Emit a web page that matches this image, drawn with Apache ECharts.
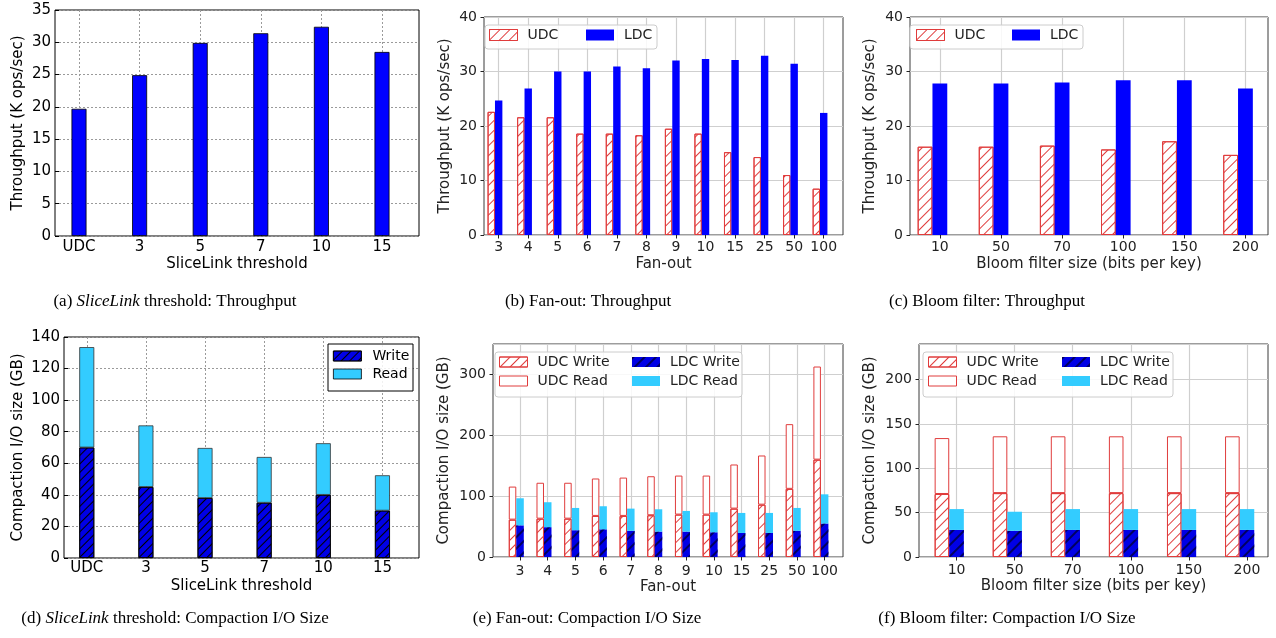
<!DOCTYPE html>
<html>
<head>
<meta charset="utf-8">
<script src="https://cdn.jsdelivr.net/npm/echarts@6/dist/echarts.min.js"></script>
<style>
  html, body { margin: 0; background: #fff; }
  #chart { width: 1276px; height: 638px; }
</style>
</head>
<body>
<div id="chart"></div>
<script>
// ---- data ----
const sliceCats = ['UDC', '3', '5', '7', '10', '15']
const sliceThroughput = [19.7, 24.9, 29.9, 31.4, 32.4, 28.5]
const sliceWrite = [70, 45, 38, 35, 40, 30]
const sliceRead = [63.6, 39, 31.7, 29, 32.7, 22.4]

const fanCats = ['3', '4', '5', '6', '7', '8', '9', '10', '15', '25', '50', '100']
const fanUdcThroughput = [22.6, 21.6, 21.6, 18.6, 18.6, 18.3, 19.5, 18.6, 15.2, 14.3, 11.0, 8.5]
const fanLdcThroughput = [24.7, 26.9, 30.0, 30.0, 30.9, 30.6, 32.0, 32.3, 32.1, 32.9, 31.4, 22.4]
const fanUdcWrite = [61.4, 63, 63, 67.5, 67.5, 68.6, 69.7, 69.7, 79.5, 86, 112, 160]
const fanUdcRead = [54.3, 59, 59, 61.5, 63, 64.1, 64.1, 64.1, 72.5, 80.8, 106.3, 153]
const fanLdcWrite = [52, 49, 44, 45.5, 43, 41.7, 41.7, 40.6, 39.5, 39.5, 43, 55]
const fanLdcRead = [44.5, 41, 36.6, 37.9, 36.5, 36.7, 34, 32.9, 32.9, 32.9, 37.6, 48]

const bloomCats = ['10', '50', '70', '100', '150', '200']
const bloomUdcThroughput = [16.2, 16.2, 16.4, 15.7, 17.2, 14.7]
const bloomLdcThroughput = [27.8, 27.8, 28.0, 28.4, 28.4, 26.9]
const bloomUdcWrite = [71, 72, 72, 72, 72, 72]
const bloomUdcRead = [63, 64, 64, 64, 64, 64]
const bloomLdcWrite = [30.5, 29.5, 30.5, 30.5, 30.5, 30.5]
const bloomLdcRead = [23.5, 21.5, 23.5, 23.5, 23.5, 23.5]

const captions = [
  { text: '(a) {i|SliceLink} threshold: Throughput', x: 175, y: 302 },
  { text: '(b) Fan-out: Throughput', x: 588, y: 302 },
  { text: '(c) Bloom filter: Throughput', x: 987, y: 302 },
  { text: '(d) {i|SliceLink} threshold: Compaction I/O Size', x: 175, y: 619 },
  { text: '(e) Fan-out: Compaction I/O Size', x: 587, y: 619 },
  { text: '(f) Bloom filter: Compaction I/O Size', x: 1007, y: 619 }
]

const FONT = 'DejaVu Sans'
const RED = '#e03c3c'
const BLUE = '#0000ff'
const CYAN = '#33ccff'

// '/' hatching through echarts decals
function hatch(line, gap, lw) {
  return {
    symbol: 'rect', symbolSize: 1, color: line,
    dashArrayX: [1, 0], dashArrayY: [lw, gap],
    rotation: -Math.PI / 4
  }
}
const udcDecal = hatch(RED, 6, 1)
const ldcDecal = hatch('#000060', 6, 1.2)
const writeDecal = hatch('#000', 4.5, 1)

// panel layout: frame = plot box, bars = category band area
const panels = [
  { frame: [55, 10, 364, 226], bars: [48.7, 363.6], yMax: 35, yStep: 5, classic: true,
    yName: 'Throughput (K ops/sec)', yGap: 29, xName: 'SliceLink threshold', xGap: 21, cats: sliceCats, xMargin: 4, yMargin: 4 },
  { frame: [484, 17, 359, 218], bars: [483.9, 354.6], yMax: 40, yStep: 10,
    yName: 'Throughput (K ops/sec)', yGap: 31, xName: 'Fan-out', xGap: 22, cats: fanCats, xMargin: 5, yMargin: 7 },
  { frame: [910, 17, 358, 218], bars: [909.3, 368], yMax: 40, yStep: 10,
    yName: 'Throughput (K ops/sec)', yGap: 32, xName: 'Bloom filter size (bits per key)', xGap: 22, cats: bloomCats, xMargin: 5, yMargin: 7 },
  { frame: [64, 337, 355, 221], bars: [57.2, 354.8], yMax: 140, yStep: 20, classic: true,
    yName: 'Compaction I/O size (GB)', yGap: 38, xName: 'SliceLink threshold', xGap: 21, cats: sliceCats, xMargin: 3, yMargin: 4 },
  { frame: [493, 344, 350, 213], bars: [506.2, 332.3], yMax: 350, yStep: 100, hideMax: true,
    yName: 'Compaction I/O size (GB)', yGap: 41, xName: 'Fan-out', xGap: 23, cats: fanCats, xMargin: 7, yMargin: 7 },
  { frame: [919, 344, 349, 213], bars: [927.5, 350.5], yMax: 240, yStep: 50, hideMax: true,
    yName: 'Compaction I/O size (GB)', yGap: 41, xName: 'Bloom filter size (bits per key)', xGap: 22, cats: bloomCats, xMargin: 6, yMargin: 7 }
]

const grid = []
const xAxis = []
const yAxis = []
panels.forEach((p, i) => {
  const [l, t, w, h] = p.frame
  const ink = p.classic ? '#000' : '#222'
  const gridLine = p.classic
    ? { color: '#9a9a9a', type: [2, 2], width: 1 }
    : { color: '#cfcfcf', type: 'solid', width: 1.2 }
  const nameStyle = { fontFamily: FONT, fontSize: 15, color: ink }
  grid.push({ left: l, top: t, width: w, height: h, show: true, borderColor: p.classic ? '#000' : '#3a3a3a', borderWidth: 1, backgroundColor: 'transparent' })
  grid.push({ left: p.bars[0], top: t, width: p.bars[1], height: h })
  xAxis.push({
    gridIndex: 2 * i, type: 'value', min: 0, max: 1,
    axisLine: { show: false }, axisTick: { show: false }, axisLabel: { show: false }, splitLine: { show: false },
    name: p.xName, nameLocation: 'middle', nameGap: p.xGap, nameTextStyle: nameStyle
  })
  yAxis.push({
    gridIndex: 2 * i, type: 'value', min: 0, max: p.yMax, interval: p.yStep,
    axisLine: { show: false },
    axisTick: { show: true, inside: !!p.classic, length: p.classic ? 4 : 3.5, lineStyle: { color: ink } },
    axisLabel: { margin: p.yMargin, fontFamily: FONT, fontSize: p.classic ? 15 : 14, color: ink, showMaxLabel: !p.hideMax },
    splitLine: { show: true, lineStyle: gridLine },
    name: p.yName, nameLocation: 'middle', nameGap: p.yGap, nameTextStyle: nameStyle
  })
  xAxis.push({
    gridIndex: 2 * i + 1, type: 'category', data: p.cats,
    axisLine: { show: false },
    axisTick: { show: true, alignWithLabel: true, interval: 0, inside: !!p.classic, length: p.classic ? 4 : 3.5, lineStyle: { color: ink } },
    axisLabel: { interval: 0, margin: p.xMargin, fontFamily: FONT, fontSize: p.classic ? 15 : 14, color: ink },
    splitLine: { show: true, alignWithLabel: true, interval: 0, lineStyle: gridLine }
  })
  yAxis.push({ gridIndex: 2 * i + 1, type: 'value', min: 0, max: p.yMax, show: false })
})

const udcStyle = { color: '#fff', decal: udcDecal, borderColor: RED, borderWidth: 1 }
const udcReadStyle = { color: '#fff', borderColor: RED, borderWidth: 1 }
const ldcStyle = { color: BLUE }
const ldcWriteStyle = { color: '#0000e6', decal: ldcDecal }
const ldcReadStyle = { color: CYAN }
const writeStyle = { color: '#0000e6', decal: writeDecal, borderColor: '#000', borderWidth: 0.8 }
const readStyle = { color: CYAN, borderColor: '#333', borderWidth: 0.8 }

const series = [
  // (a)
  { type: 'bar', name: 'LDC a', xAxisIndex: 1, yAxisIndex: 1, data: sliceThroughput, barWidth: 15,
    itemStyle: { color: BLUE, borderColor: '#000', borderWidth: 0.8 } },
  // (b)
  { type: 'bar', name: 'UDC', xAxisIndex: 3, yAxisIndex: 3, data: fanUdcThroughput, barWidth: 7.4, barGap: '0%', itemStyle: udcStyle },
  { type: 'bar', name: 'LDC', xAxisIndex: 3, yAxisIndex: 3, data: fanLdcThroughput, barWidth: 7.4, barGap: '0%', itemStyle: ldcStyle },
  { type: 'bar', name: 'pad b', xAxisIndex: 3, yAxisIndex: 3, data: [], barWidth: 7.4, barGap: '0%' },
  // (c)
  { type: 'bar', name: 'UDC', xAxisIndex: 5, yAxisIndex: 5, data: bloomUdcThroughput, barWidth: 14.8, barGap: '0%', itemStyle: udcStyle },
  { type: 'bar', name: 'LDC', xAxisIndex: 5, yAxisIndex: 5, data: bloomLdcThroughput, barWidth: 14.8, barGap: '0%', itemStyle: ldcStyle },
  { type: 'bar', name: 'pad c', xAxisIndex: 5, yAxisIndex: 5, data: [], barWidth: 14.8, barGap: '0%' },
  // (d)
  { type: 'bar', name: 'Write', stack: 'd', xAxisIndex: 7, yAxisIndex: 7, data: sliceWrite, barWidth: 15, itemStyle: writeStyle },
  { type: 'bar', name: 'Read', stack: 'd', xAxisIndex: 7, yAxisIndex: 7, data: sliceRead, barWidth: 15, itemStyle: readStyle },
  // (e)
  { type: 'bar', name: 'UDC Write', stack: 'eu', xAxisIndex: 9, yAxisIndex: 9, data: fanUdcWrite, barWidth: 7.5, barGap: '0%', itemStyle: udcStyle },
  { type: 'bar', name: 'UDC Read', stack: 'eu', xAxisIndex: 9, yAxisIndex: 9, data: fanUdcRead, barWidth: 7.5, barGap: '0%', itemStyle: udcReadStyle },
  { type: 'bar', name: 'LDC Write', stack: 'el', xAxisIndex: 9, yAxisIndex: 9, data: fanLdcWrite, barWidth: 7.5, barGap: '0%', itemStyle: ldcWriteStyle },
  { type: 'bar', name: 'LDC Read', stack: 'el', xAxisIndex: 9, yAxisIndex: 9, data: fanLdcRead, barWidth: 7.5, barGap: '0%', itemStyle: ldcReadStyle },
  { type: 'bar', name: 'pad e', stack: 'ep', xAxisIndex: 9, yAxisIndex: 9, data: [], barWidth: 7.5, barGap: '0%' },
  // (f)
  { type: 'bar', name: 'UDC Write', stack: 'fu', xAxisIndex: 11, yAxisIndex: 11, data: bloomUdcWrite, barWidth: 14.6, barGap: '0%', itemStyle: udcStyle },
  { type: 'bar', name: 'UDC Read', stack: 'fu', xAxisIndex: 11, yAxisIndex: 11, data: bloomUdcRead, barWidth: 14.6, barGap: '0%', itemStyle: udcReadStyle },
  { type: 'bar', name: 'LDC Write', stack: 'fl', xAxisIndex: 11, yAxisIndex: 11, data: bloomLdcWrite, barWidth: 14.6, barGap: '0%', itemStyle: ldcWriteStyle },
  { type: 'bar', name: 'LDC Read', stack: 'fl', xAxisIndex: 11, yAxisIndex: 11, data: bloomLdcRead, barWidth: 14.6, barGap: '0%', itemStyle: ldcReadStyle },
  { type: 'bar', name: 'pad f', stack: 'fp', xAxisIndex: 11, yAxisIndex: 11, data: [], barWidth: 14.6, barGap: '0%' }
]

// legends (one per column so the columns line up like matplotlib)
const legendText = { fontFamily: FONT, fontSize: 14, color: '#222', padding: [0, 0, 0, 5] }
function legendCol(names, styles, left, top, extra) {
  return Object.assign({
    orient: 'vertical', left, top, padding: 0, itemGap: 5, itemWidth: 28, itemHeight: 10,
    selectedMode: false, icon: 'rect', textStyle: legendText,
    data: names.map((n, k) => ({ name: n, itemStyle: styles[k] }))
  }, extra || {})
}
const legend = [
  legendCol(['UDC'], [udcStyle], 489, 28, { itemHeight: 11 }),
  legendCol(['LDC'], [ldcStyle], 586, 28, { itemHeight: 11 }),
  legendCol(['UDC'], [udcStyle], 916, 28, { itemHeight: 11 }),
  legendCol(['LDC'], [ldcStyle], 1012, 28, { itemHeight: 11 }),
  legendCol(['Write', 'Read'], [writeStyle, { color: CYAN, borderColor: '#000', borderWidth: 0.8 }],
    333, 349, { itemGap: 4, textStyle: { fontFamily: FONT, fontSize: 14, color: '#000', padding: [0, 0, 0, 6] } }),
  legendCol(['UDC Write', 'UDC Read'], [udcStyle, udcReadStyle], 499, 355),
  legendCol(['LDC Write', 'LDC Read'], [ldcWriteStyle, ldcReadStyle], 632, 355),
  legendCol(['UDC Write', 'UDC Read'], [udcStyle, udcReadStyle], 928, 355),
  legendCol(['LDC Write', 'LDC Read'], [ldcWriteStyle, ldcReadStyle], 1062, 355)
]

const legendBoxes = [
  [485, 25, 172, 24, 3, '#cccccc'],
  [910, 25, 173, 24, 3, '#cccccc'],
  [328, 344, 85, 47, 0, '#000'],
  [495, 352, 247, 45, 3, '#cccccc'],
  [923, 352, 250, 45, 3, '#cccccc']
]

const graphic = legendBoxes.map(([x, y, w, h, r, stroke]) => ({
  type: 'rect', z: 3,
  shape: { x, y, width: w, height: h, r },
  style: { fill: 'rgba(255,255,255,0.85)', stroke, lineWidth: 1 }
})).concat(captions.map(c => ({
  type: 'text', x: c.x, y: c.y,
  style: {
    text: c.text, fill: '#000',
    fontFamily: 'Liberation Serif', fontSize: 17,
    textAlign: 'center', textVerticalAlign: 'middle',
    rich: { i: { fontFamily: 'Liberation Serif', fontSize: 17, fontStyle: 'italic' } }
  }
})))

const chart = echarts.init(document.getElementById('chart'))
chart.setOption({
  animation: false,
  backgroundColor: '#fff',
  grid, xAxis, yAxis, series, legend, graphic
})
</script>
</body>
</html>
